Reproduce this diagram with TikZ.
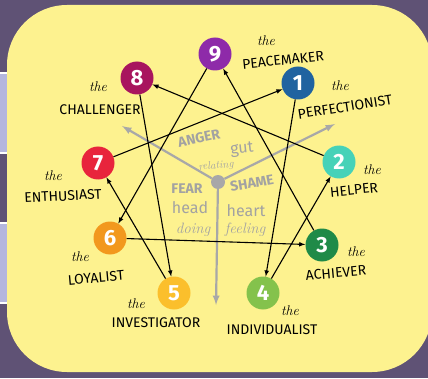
\documentclass[tikz,border=0pt]{standalone}
\usepackage{fontspec}
\setsansfont{Fira Sans}
\definecolor{plum}{HTML}{5F5275}
\definecolor{lav}{HTML}{B4B6DE}
\definecolor{pad}{HTML}{FDF28F}
\definecolor{greyline}{HTML}{A8A8A8}
\definecolor{greytxt}{HTML}{A2A2A2}
\definecolor{cNine}{HTML}{8E2AA9}
\definecolor{cEight}{HTML}{A8155E}
\definecolor{cOne}{HTML}{2063A0}
\definecolor{cSeven}{HTML}{E8243C}
\definecolor{cTwo}{HTML}{46D2B8}
\definecolor{cSix}{HTML}{F2981E}
\definecolor{cThree}{HTML}{1F8A48}
\definecolor{cFive}{HTML}{FBBF2C}
\definecolor{cFour}{HTML}{84C24C}
\begin{document}
\begin{tikzpicture}[x=1pt,y=1pt,
  num/.style={circle,minimum size=33pt,inner sep=0pt,text=white,
    font=\sffamily\bfseries\fontsize{22}{22}\selectfont},
  lbl/.style={inner sep=1pt,font=\sffamily\fontsize{14}{14}\selectfont},
  art/.style={inner sep=1pt,font=\itshape\fontsize{14}{14}\selectfont},
  core/.style={inner sep=0.5pt,text=greytxt,font=\sffamily\bfseries\fontsize{14}{14}\selectfont},
  mood/.style={inner sep=0.5pt,text=greytxt,font=\sffamily\fontsize{16}{16}\selectfont},
  soft/.style={inner sep=0.5pt,text=greytxt,font=\itshape\fontsize{15}{15}\selectfont},
  link/.style={-latex,line width=1.1pt},
  axis/.style={-latex,line width=2.2pt,draw=greyline}]
\useasboundingbox (0,0) rectangle (428,378);
% backdrop
\fill[plum] (0,0) rectangle (428,378);
\filldraw[fill=lav,draw=white,line width=1.5pt] (-10,225) rectangle (9,305);
\filldraw[fill=lav,draw=white,line width=1.5pt] (-10,75) rectangle (9,155);
\fill[pad,rounded corners=60pt] (7,6) rectangle (432,373);
% centre
\node[circle,fill=greyline,minimum size=14pt,inner sep=0pt] (c) at (218,196) {};
\coordinate (gut) at (122,252);
\coordinate (heart) at (335,254);
\coordinate (head) at (216,73);
\draw[axis] (c) -- (gut);
\draw[axis] (c) -- (heart);
\draw[axis] (c) -- (head);
\node[core,rotate=12] (anger) at (199,240) {ANGER};
\node[mood,rotate=6] (gutw) at (242,228) {gut};
\node[soft,font=\itshape\fontsize{11}{11}\selectfont,rotate=5] (rel) at (216,212) {relating};
\node[core] (fear) at (187,189) {FEAR};
\node[core,rotate=10] (shame) at (252,195) {SHAME};
\node[mood] (headw) at (190,170) {head};
\node[mood] (heartw) at (246,167) {heart};
\node[soft] (doing) at (193,148) {doing};
\node[soft] (feeling) at (245,148) {feeling};
% the nine points
\node[num,fill=cNine] (n9) at (215,324) {9};
\node[num,fill=cEight] (n8) at (137,300) {8};
\node[num,fill=cOne] (n1) at (298,295) {1};
\node[num,fill=cSeven] (n7) at (98,215) {7};
\node[num,fill=cTwo] (n2) at (339,216) {2};
\node[num,fill=cSix] (n6) at (110,140) {6};
\node[num,fill=cThree] (n3) at (322,133) {3};
\node[num,fill=cFive] (n5) at (174,85) {5};
\node[num,fill=cFour] (n4) at (263,85) {4};
% lines of the figure
\draw[link] (n1) -- (n4);
\draw[link] (n4) -- (n2);
\draw[link] (n2) -- (n8);
\draw[link] (n8) -- (n5);
\draw[link] (n5) -- (n7);
\draw[link] (n7) -- (n1);
\draw[link] (n9) -- (n6);
\draw[link] (n6) -- (n3);
\draw[link] (n3) -- (n9);
% names
\node[art] (t9) at (266,337) {the};
\node[lbl,rotate=6] (l9) at (283,318) {PEACEMAKER};
\node[art] (t8) at (98,291) {the};
\node[lbl] (l8) at (100,268) {CHALLENGER};
\node[art] (t1) at (340,292) {the};
\node[lbl,rotate=9] (l1) at (345,271) {PERFECTIONIST};
\node[art] (t7) at (53,202) {the};
\node[lbl,rotate=3] (l7) at (63,182) {ENTHUSIAST};
\node[art] (t2) at (372,208) {the};
\node[lbl,rotate=6] (l2) at (354,188) {HELPER};
\node[art] (t6) at (80,121) {the};
\node[lbl,rotate=5] (l6) at (96,100) {LOYALIST};
\node[art] (t3) at (356,126) {the};
\node[lbl,rotate=5] (l3) at (336,105) {ACHIEVER};
\node[art] (t5) at (136,74) {the};
\node[lbl] (l5) at (156,55) {INVESTIGATOR};
\node[art] (t4) at (290,67) {the};
\node[lbl] (l4) at (272,48) {INDIVIDUALIST};
\end{tikzpicture}
\end{document}
